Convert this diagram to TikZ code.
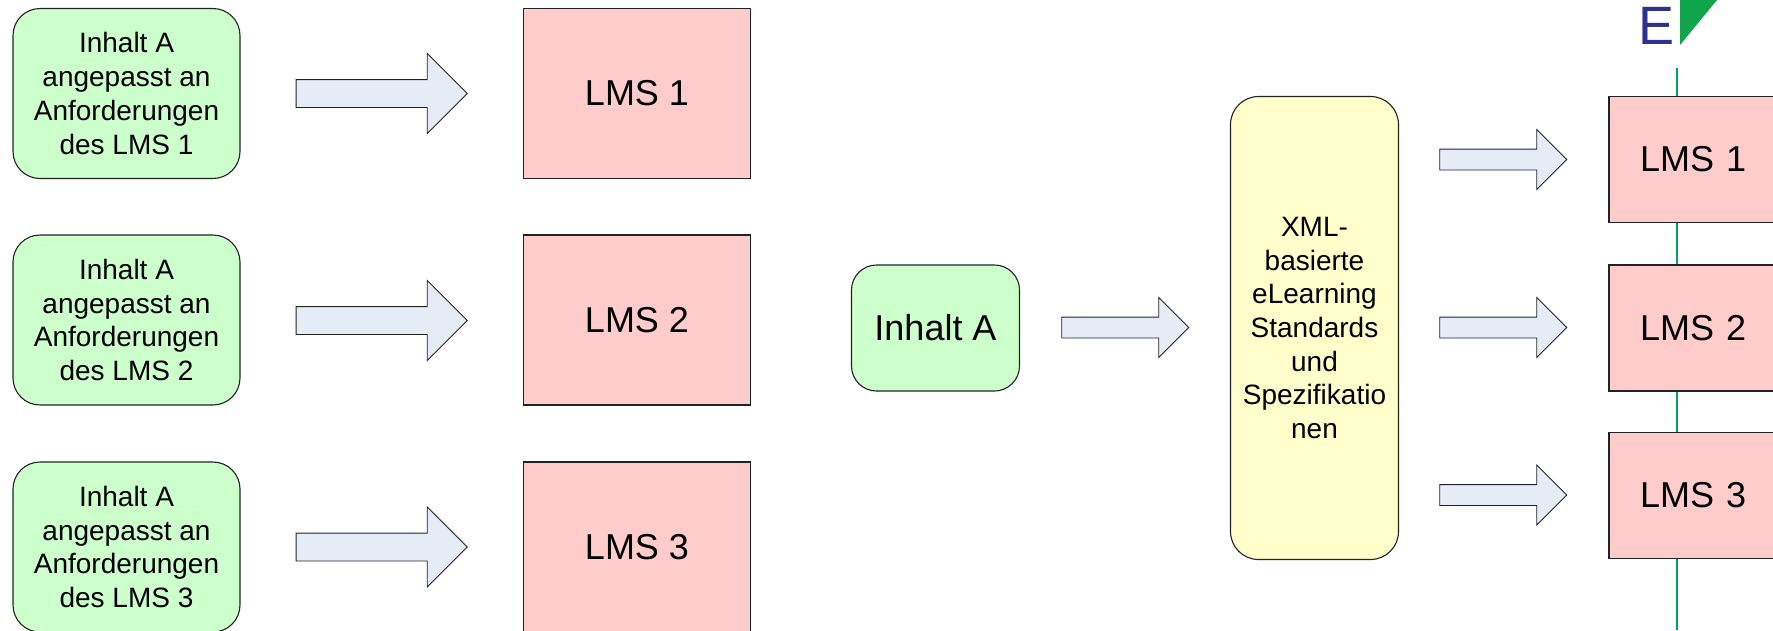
\documentclass[tikz,border=0pt]{standalone}
\usepackage{fontspec}
\setmainfont{Liberation Sans}
\usetikzlibrary{shapes.arrows}
\definecolor{boxgreen}{HTML}{CCFFCC}
\definecolor{boxred}{HTML}{FFCCCC}
\definecolor{boxyellow}{HTML}{FFFFCC}
\definecolor{arrowfill}{HTML}{E6ECF6}
\definecolor{logoblue}{HTML}{2E3192}
\definecolor{logogreen}{HTML}{10A44C}
\definecolor{linegreen}{HTML}{00A060}
\definecolor{edge}{HTML}{222222}
\newcommand{\bigshaft}{\rule{0pt}{27pt}}
\newcommand{\smallshaft}{\rule{0pt}{20pt}}
\newcommand{\lift}[1]{\raisebox{1pt}{#1}}
\tikzset{
  x=1pt,y=-1pt,
  shapebox/.style={draw=edge,line width=1.1pt,inner sep=0pt,outer sep=0pt,align=center,anchor=north west},
  smalltext/.style={font=\fontsize{28}{33.7}\selectfont},
  bigtext/.style={font=\fontsize{36}{42}\selectfont},
  adapted/.style={shapebox,smalltext,fill=boxgreen,rounded corners=27pt,minimum width=227pt,minimum height=170pt},
  lmsbig/.style={shapebox,bigtext,fill=boxred,minimum width=227pt,minimum height=170pt},
  lmssmall/.style={shapebox,bigtext,fill=boxred,minimum width=230pt,minimum height=126pt,text width=230pt,align=left},
  blockbig/.style={draw=edge,line width=0.9pt,fill=arrowfill,single arrow,shape border rotate=0,inner sep=0pt,outer sep=0pt,
    minimum height=171pt,minimum width=79pt,single arrow head extend=26pt,single arrow head indent=0pt,single arrow tip angle=90},
  blocksmall/.style={draw=edge,line width=0.9pt,fill=arrowfill,single arrow,shape border rotate=0,inner sep=0pt,outer sep=0pt,
    minimum height=127pt,minimum width=59pt,single arrow head extend=19.5pt,single arrow head indent=0pt,single arrow tip angle=90},
}
\begin{document}
\begin{tikzpicture}
\useasboundingbox (0,0) rectangle (1773,630);
\clip (0,0) rectangle (1773,630);
\fill[white] (0,0) rectangle (1773,630);
% logo and line
\node[inner sep=0pt,anchor=base west,text=logoblue,font=\fontsize{54}{54}\selectfont] (logoe) at (1638,44) {E};
\fill[logogreen] (1680,0) -- (1717,0) -- (1680,45) -- cycle;
\coordinate (linetop) at (1677,68);
\coordinate (linebottom) at (1677,630);
\draw[linegreen,line width=2.8pt] (linetop) -- (linebottom);
% left column
\node[adapted] (a1) at (13,8.5) {Inhalt A\\angepasst an\\Anforderungen\\des LMS 1};
\node[adapted] (a2) at (13,235) {Inhalt A\\angepasst an\\Anforderungen\\des LMS 2};
\node[adapted] (a3) at (13,462) {Inhalt A\\angepasst an\\Anforderungen\\des LMS 3};
\node[lmsbig] (l1) at (523.5,8.5) {\lift{LMS 1}};
\node[lmsbig] (l2) at (523.5,235) {\lift{LMS 2}};
\node[lmsbig] (l3) at (523.5,462) {\lift{LMS 3}};
\node[blockbig] (b1) at (374.7,93.5) {\bigshaft};
\node[blockbig] (b2) at (374.7,320.5) {\bigshaft};
\node[blockbig] (b3) at (374.7,547) {\bigshaft};
% right part
\node[shapebox,bigtext,fill=boxgreen,rounded corners=25pt,minimum width=168pt,minimum height=126pt] (inhalt) at (851.5,265) {Inhalt A};
\node[blocksmall] (b4) at (1120,327.5) {\smallshaft};
\node[shapebox,smalltext,fill=boxyellow,rounded corners=28pt,minimum width=168pt,minimum height=463pt] (xml) at (1230.5,96.5)
  {XML-\\basierte\\eLearning\\Standards\\und\\Spezifikatio\\nen};
\node[blocksmall] (b5) at (1498,159.5) {\smallshaft};
\node[blocksmall] (b6) at (1498,327.5) {\smallshaft};
\node[blocksmall] (b7) at (1498,495) {\smallshaft};
\node[lmssmall] (r1) at (1609,96.5) {\hspace*{31pt}LMS 1};
\node[lmssmall] (r2) at (1609,265) {\hspace*{31pt}LMS 2};
\node[lmssmall] (r3) at (1609,432.5) {\hspace*{31pt}LMS 3};
\end{tikzpicture}
\end{document}
